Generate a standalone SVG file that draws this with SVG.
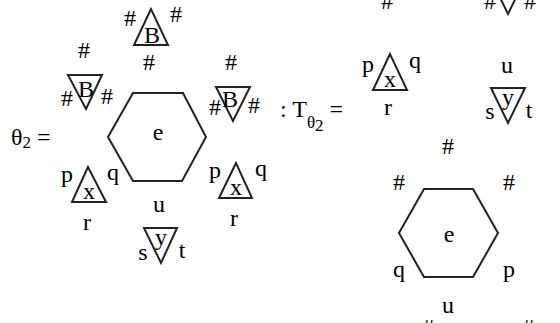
<svg xmlns="http://www.w3.org/2000/svg" width="560" height="323" viewBox="0 0 560 323">
<style>
text{font-family:"Liberation Serif","DejaVu Serif","Times New Roman",serif;font-size:24px;fill:#000;text-anchor:middle}
.sub{font-size:17px}
.sh{fill:none;stroke:#222;stroke-width:2;stroke-linejoin:miter}
</style>
<rect width="560" height="323" fill="#fff"/>
<g id="connectors"/>
<g id="lhs-label"><text x="11" y="145" style="text-anchor:start">θ<tspan class="sub" dy="3">2</tspan><tspan dy="-3"> =</tspan></text></g>
<g id="hex-left">
<polygon class="sh" points="108,137 133,93 183,93 206,137 182,181 133,181"/>
<text x="158" y="140">e</text>
</g>
<g id="tri-B-top">
<polygon class="sh" points="151,9 134,45 168,45"/>
<text x="152" y="43">B</text>
<text x="130" y="26">#</text><text x="176" y="22">#</text><text x="149" y="70">#</text>
</g>
<g id="tri-B-left">
<polygon class="sh" points="68,75 102,75 86,109"/>
<text x="86" y="97">B</text>
<text x="84" y="58">#</text><text x="67" y="106">#</text><text x="107" y="104">#</text>
</g>
<g id="tri-B-right">
<polygon class="sh" points="216,87 250,87 233,121"/>
<text x="230" y="107">B</text>
<text x="231" y="70">#</text><text x="215" y="115">#</text><text x="254" y="113">#</text>
</g>
<g id="tri-x-left">
<polygon class="sh" points="88,167 72,202 106,202"/>
<text x="89" y="199">x</text>
<text x="67" y="182">p</text><text x="113" y="180">q</text><text x="87" y="230">r</text>
</g>
<g id="tri-x-right">
<polygon class="sh" points="236,163 219,198 252,198"/>
<text x="236" y="195">x</text>
<text x="215" y="178">p</text><text x="261" y="176">q</text><text x="234" y="226">r</text>
</g>
<g id="u-left"><text x="159" y="212">u</text></g>
<g id="tri-y-left">
<polygon class="sh" points="144,228 177,228 161,263"/>
<text x="161" y="245">y</text>
<text x="143" y="260">s</text><text x="182" y="258">t</text>
</g>
<g id="rhs-label"><text x="280" y="117" style="text-anchor:start">: T<tspan class="sub" dy="11">θ</tspan><tspan class="sub" dy="3">2</tspan><tspan dy="-14"> =</tspan></text></g>
<g id="top-partial">
<text x="387" y="9">#</text>
<polygon class="sh" points="491,-21 525,-21 508,14"/>
<text x="490" y="9">#</text><text x="530" y="9">#</text>
</g>
<g id="tri-x-rhs">
<polygon class="sh" points="390,54 373,90 407,90"/>
<text x="390" y="87">x</text>
<text x="368" y="72">p</text><text x="415" y="68">q</text><text x="388" y="115">r</text>
</g>
<g id="tri-y-rhs">
<text x="507" y="73">u</text>
<polygon class="sh" points="491,88 525,88 508,123"/>
<text x="508" y="105">y</text>
<text x="490" y="119">s</text><text x="529" y="118">t</text>
</g>
<g id="hex-right">
<polygon class="sh" points="399,233 424,189 473,189 498,233 473,277 424,277"/>
<text x="449" y="242">e</text>
<text x="448" y="154">#</text>
<text x="399" y="190">#</text><text x="509" y="190">#</text>
<text x="399" y="277">q</text><text x="509" y="277">p</text>
<text x="448" y="313">u</text>
</g>
<g id="bottom-partial">
<text x="428" y="335">#</text><text x="528" y="335">#</text>
</g>
</svg>
